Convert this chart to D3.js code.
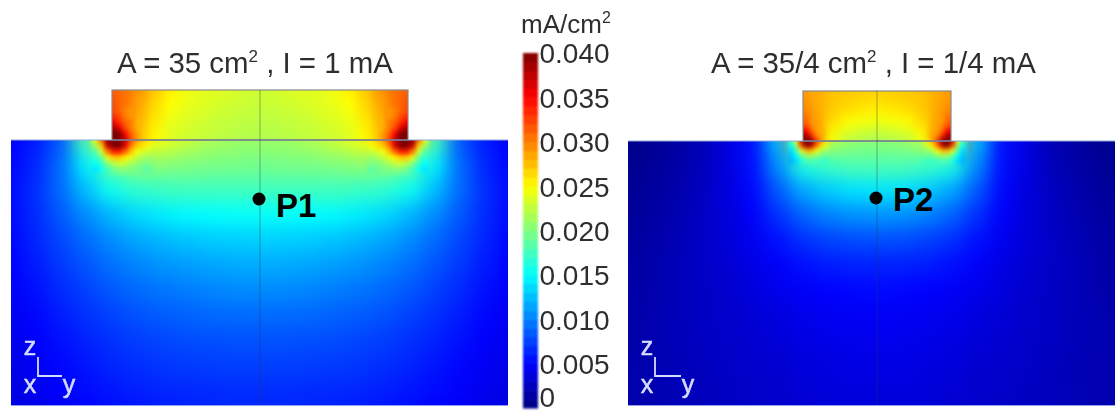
<!DOCTYPE html>
<html>
<head>
<meta charset="utf-8">
<script src="https://cdn.jsdelivr.net/npm/d3@7"></script>
<style>
body { margin: 0; background: #fff; }
svg { display: block; }
text { font-family: "Liberation Sans", Arial, sans-serif; }
</style>
</head>
<body>
<div class="canvas"></div>
<script>
// all values in mA/cm2
// distance from centre line / depth below the pad (negative = inside the pad)
const fieldDist = [0, 25, 50, 75, 100, 125, 150, 175, 200, 225, 250];
const fieldDepth = [0, 25, 50, 75, 100, 125, 150, 175, 200, 225, 250, 265];

// one list per fieldDist
const p1Field = [
	[.021, .0195, .0175, .0152, .0132, .0118, .0105, .0092, .0082, .0075, .0068, .0065],
	[.0212, .0197, .0175, .0152, .0131, .0117, .0104, .0092, .0082, .0075, .0068, .0065],
	[.0218, .0198, .0175, .015, .013, .0115, .0102, .0091, .0081, .0074, .0067, .0064],
	[.023, .02, .0175, .0148, .0127, .0112, .0099, .0089, .008, .0073, .0066, .0063],
	[.0245, .0205, .0172, .0143, .0122, .0108, .0096, .0086, .0077, .0071, .0065, .0061],
	[.026, .0205, .0168, .0135, .0115, .0102, .0091, .0082, .0074, .0068, .0062, .0058],
	[.028, .019, .0155, .0122, .0105, .0094, .0085, .0076, .0069, .0064, .0058, .0055],
	[.018, .0145, .0125, .0105, .0092, .0083, .0075, .0069, .0063, .0058, .0054, .0051],
	[.0085, .0092, .0092, .0085, .0078, .0072, .0066, .0061, .0056, .0052, .0049, .0047],
	[.006, .0065, .0068, .0067, .0064, .006, .0056, .0052, .0049, .0046, .0044, .0042],
	[.005, .0052, .0054, .0053, .0052, .005, .0048, .0045, .0043, .0041, .004, .0039]
];

const p2Field = [
	[.0205, .018, .014, .0108, .008, .0062, .0053, .0047, .0043, .004, .0037, .0036],
	[.0208, .018, .0138, .0106, .0079, .0062, .0052, .0046, .0042, .004, .0037, .0036],
	[.0225, .0172, .013, .01, .0075, .006, .005, .0045, .0041, .0038, .0036, .0035],
	[.03, .016, .0115, .0088, .0068, .0055, .0047, .0042, .0039, .0036, .0034, .0033],
	[.0125, .0105, .0085, .0068, .0056, .0048, .0042, .0038, .0035, .0032, .003, .003],
	[.0055, .0055, .0052, .0048, .0044, .004, .0037, .0034, .0032, .003, .0029, .0028],
	[.0038, .0038, .0037, .0036, .0035, .0033, .0031, .003, .0029, .0028, .0027, .0026],
	[.0022, .0024, .0026, .0027, .0028, .0028, .0027, .0027, .0026, .0025, .0024, .0024],
	[.0014, .0016, .0018, .002, .0022, .0023, .0023, .0023, .0023, .0022, .0022, .0022],
	[.0008, .001, .0012, .0014, .0016, .0017, .0018, .0019, .0019, .0019, .0019, .0019],
	[.0005, .0006, .0008, .001, .0012, .0014, .0015, .0016, .0016, .0017, .0017, .0017]
];

// pads, one list per depth
const p1PadDist = [0, 15, 30, 45, 60, 75, 90, 105, 120, 135, 148];
const p1PadDepth = [-48, -36, -24, -12, 0];
const p1Pad = [
	[.023, .0232, .0235, .0238, .024, .0245, .0255, .027, .029, .0305, .0315],
	[.0228, .023, .0232, .0235, .0238, .0242, .025, .0265, .0285, .0305, .032],
	[.0225, .0226, .0228, .023, .0235, .0238, .0245, .026, .028, .0305, .033],
	[.0222, .0223, .0225, .0228, .023, .0235, .024, .0255, .0275, .031, .036],
	[.022, .022, .0222, .0225, .0228, .023, .0238, .025, .027, .031, .04]
];

const p2PadDist = [0, 15, 30, 45, 60, 74];
const p2PadDepth = [-50, -40, -30, -20, -10, 0];
const p2Pad = [
	[.0268, .027, .0272, .0275, .0282, .029],
	[.0262, .0265, .0268, .0272, .0282, .0292],
	[.0255, .0258, .0262, .027, .0285, .03],
	[.0245, .0247, .0252, .0265, .0285, .031],
	[.023, .0233, .024, .0255, .029, .034],
	[.0218, .022, .0225, .0245, .029, .04]
];

// hot spots at the pad corner, read on a finer grid
const p1HotDist = [111, 117, 123, 129, 135, 141, 147, 153, 159, 165];
const p1HotDepth = [-30, -24, -18, -12, -6, 0, 6, 12, 18, 24, 30];
const p1Hot = [
	[null, null, null, .029, .03, .031, .032, .032, null, null],
	[null, null, null, .029, .03, .032, .033, .033, null, null],
	[null, null, .028, .03, .031, .033, .035, .035, null, null],
	[null, null, .028, .03, .032, .036, .038, .038, null, null],
	[null, .027, .029, .031, .035, .04, .04, .04, null, null],
	[.026, .027, .029, .032, .037, .04, .04, .04, .031, .024],
	[.0245, .026, .027, .03, .036, .04, .04, .037, .027, .021],
	[.0228, .0235, .0245, .027, .031, .034, .034, .03, .023, .018],
	[.021, .0215, .0225, .024, .0255, .027, .027, .024, .019, .0165],
	[.0198, .02, .0205, .0215, .0225, .023, .022, .02, .017, .015],
	[.0185, .019, .0195, .0198, .02, .02, .019, .0175, .0155, .014]
];

const p2HotDist = [51, 56, 61, 66, 71, 76, 81, 86];
const p2HotDepth = [-20, -15, -10, -5, 0, 5, 10, 15, 20];
const p2Hot = [
	[null, null, .0285, .029, .031, .031, null, null],
	[null, null, .0285, .03, .032, .032, null, null],
	[null, .028, .029, .031, .035, .035, null, null],
	[null, .0285, .03, .034, .039, .039, null, null],
	[.026, .029, .033, .04, .04, .037, .025, .017],
	[.0235, .026, .031, .038, .04, .032, .021, .015],
	[.021, .022, .025, .028, .028, .024, .018, .0135],
	[.019, .0195, .0205, .0215, .021, .019, .015, .0125],
	[.017, .0172, .0175, .0178, .0175, .016, .0135, .012]
];

// colour bar
const barTicks = [0, .005, .01, .015, .02, .025, .03, .035, .04];
const barSteps = [0, .001, .002, .003, .004, .005, .006, .007, .008, .009, .01, .011, .012, .013, .014, .015, .016, .017, .018, .019, .02, .021, .022, .023, .024, .025, .026, .027, .028, .029, .03, .031, .032, .033, .034, .035, .036, .037, .038, .039];
const barStep = .001;

const dims = { width: 1115, height: 413 };

const colour = d3.scaleLinear()
	.domain([0, .005, .015, .025, .035, .04])
	.range(['#00007f', '#0000ff', '#00ffff', '#ffff00', '#ff0000', '#7f0000'])
	.clamp(true);

const svg = d3.select('.canvas').append('svg')
	.attr('width', dims.width)
	.attr('height', dims.height);

const defs = svg.append('defs');

const addBlur = (id, sd) => {
	defs.append('filter')
		.attr('id', id)
		.attr('filterUnits', 'userSpaceOnUse')
		.attr('x', -100).attr('y', -100)
		.attr('width', dims.width + 200).attr('height', dims.height + 200)
		.attr('color-interpolation-filters', 'sRGB')
		.append('feGaussianBlur').attr('stdDeviation', sd);
};
addBlur('blurWide', 9);
addBlur('blurMid', 5);
addBlur('blurHot', 2.2);
addBlur('blurSoft', 1.1);
addBlur('blurText', 0.45);

// cell edges halfway between grid nodes, outer edges pushed out by pad px
const edges = (nodes, pad) => nodes.map((n, i) => {
	const prev = i === 0 ? n - pad : (nodes[i - 1] + n) / 2;
	const next = i === nodes.length - 1 ? n + pad : (n + nodes[i + 1]) / 2;
	return [prev, next];
});

const drawCells = (parent, filter, clip, dist, depth, grid, panel, pad) => {
	const g = parent.append('g').attr('clip-path', clip).append('g').attr('filter', filter);
	const cells = [];
	const dEdges = edges(dist, pad);
	const zEdges = edges(depth, pad);
	grid.forEach((row, r) => row.forEach((v, c) => {
		if (v === null) return;
		[panel.xLeft, panel.xRight].forEach(x => {
			cells.push({ v, x0: x(dEdges[c][0]), x1: x(dEdges[c][1]), y0: panel.y(zEdges[r][0]), y1: panel.y(zEdges[r][1]) });
		});
	}));
	g.selectAll('rect').data(cells).enter().append('rect')
		.attr('x', d => Math.min(d.x0, d.x1) - .3)
		.attr('y', d => d.y0 - .3)
		.attr('width', d => Math.abs(d.x1 - d.x0) + .6)
		.attr('height', d => d.y1 - d.y0 + .6)
		.attr('fill', d => colour(d.v));
};

const drawPanel = (p) => {
	const panel = {
		xLeft: d3.scaleLinear().domain([0, 100]).range([p.centre, p.centre - 100]),
		xRight: d3.scaleLinear().domain([0, 100]).range([p.centre, p.centre + 100]),
		y: d3.scaleLinear().domain([0, 100]).range([p.top, p.top + 100])
	};
	const padLeft = p.centre - p.padHalf, padW = p.padHalf * 2;
	const bottom = 405, padTop = p.top - 50;
	const g = svg.append('g');

	const clip = (id, rects) => {
		const c = defs.append('clipPath').attr('id', id);
		rects.forEach(r => c.append('rect').attr('x', r[0]).attr('y', r[1]).attr('width', r[2]).attr('height', r[3]));
		return `url(#${id})`;
	};
	const fieldRect = [p.left, p.top, p.right - p.left, bottom - p.top];
	const padRect = [padLeft, padTop, padW, p.top - padTop];
	const fieldClip = clip(p.id + 'Field', [fieldRect]);
	const padClip = clip(p.id + 'Pad', [padRect]);
	const allClip = clip(p.id + 'All', [fieldRect, padRect]);

	drawCells(g, 'url(#blurWide)', fieldClip, fieldDist, fieldDepth, d3.transpose(p.field), panel, 60);
	drawCells(g, 'url(#blurMid)', padClip, p.padDist, p.padDepth, p.pad, panel, 60);
	drawCells(g, 'url(#blurHot)', allClip, p.hotDist, p.hotDepth, p.hot, panel, 3);

	// outlines
	g.append('rect').attr('x', padLeft).attr('y', padTop).attr('width', padW).attr('height', 50)
		.attr('fill', 'none').attr('stroke', '#8a8a8a').attr('stroke-width', 1.2).attr('filter', 'url(#blurText)');
	g.append('line').attr('x1', p.left).attr('x2', p.right).attr('y1', p.top).attr('y2', p.top)
		.attr('stroke', '#8fa8d8').attr('stroke-width', 1);
	g.append('line').attr('x1', padLeft).attr('x2', padLeft + padW).attr('y1', p.top).attr('y2', p.top)
		.attr('stroke', '#444').attr('stroke-opacity', .55).attr('stroke-width', 1.2);
	g.append('line').attr('x1', p.centre).attr('x2', p.centre).attr('y1', padTop).attr('y2', bottom)
		.attr('stroke', '#334').attr('stroke-opacity', .4).attr('stroke-width', 1);
	g.append('line').attr('x1', p.left).attr('x2', p.right).attr('y1', bottom + .5).attr('y2', bottom + .5)
		.attr('stroke', '#8f9ff0').attr('stroke-width', 1.2);

	// axis triad
	const triad = g.append('g').attr('filter', 'url(#blurText)').attr('fill', '#d4dcff');
	triad.append('path')
		.attr('d', `M${p.triad[0]},${p.triad[1]}v19h${p.triad[2]}`)
		.attr('fill', 'none').attr('stroke', '#d4dcff').attr('stroke-width', 1.8);
	triad.selectAll('text')
		.data([['z', p.triad[0] - 8, 355], ['x', p.triad[0] - 8, 393], ['y', p.triad[0] + p.triad[2] + 7, 393]])
		.enter().append('text')
		.attr('x', d => d[1]).attr('y', d => d[2])
		.attr('text-anchor', 'middle').attr('font-size', 25)
		.attr('stroke', '#d4dcff').attr('stroke-width', .5)
		.text(d => d[0]);

	// probe point
	g.append('circle').attr('cx', p.centre - 1).attr('cy', p.pointY).attr('r', 6.5).attr('fill', '#000');
	g.append('text').attr('x', p.centre + p.labelDx).attr('y', p.labelY)
		.attr('font-size', 33).attr('font-weight', 'bold').attr('fill', '#000').text(p.label);

	// title
	const title = g.append('text').attr('x', p.titleX).attr('y', 73)
		.attr('font-size', 29.4).attr('fill', '#2e2e2e').attr('filter', 'url(#blurText)');
	title.append('tspan').text(p.titleA);
	title.append('tspan').attr('dy', -11).attr('font-size', 17).text('2');
	title.append('tspan').attr('dy', 11).text(p.titleB);
};

drawPanel({
	id: 'p1', centre: 260, padHalf: 148, left: 11, right: 508, top: 140,
	field: p1Field, padDist: p1PadDist, padDepth: p1PadDepth, pad: p1Pad,
	hotDist: p1HotDist, hotDepth: p1HotDepth, hot: p1Hot,
	pointY: 199, label: 'P1', labelDx: 16, labelY: 217,
	titleX: 117, titleA: 'A = 35 cm', titleB: ' , I = 1 mA',
	triad: [38, 357, 24]
});

drawPanel({
	id: 'p2', centre: 877, padHalf: 74, left: 628, right: 1115, top: 141,
	field: p2Field, padDist: p2PadDist, padDepth: p2PadDepth, pad: p2Pad,
	hotDist: p2HotDist, hotDepth: p2HotDepth, hot: p2Hot,
	pointY: 198, label: 'P2', labelDx: 16, labelY: 211,
	titleX: 711, titleA: 'A = 35/4 cm', titleB: ' , I = 1/4 mA',
	triad: [655, 357, 26]
});

// colour bar
const barY = d3.scaleLinear().domain([0, .04]).range([408, 53]);
const barGroup = svg.append('g');
barGroup.append('g').attr('filter', 'url(#blurSoft)')
	.selectAll('rect').data(barSteps).enter().append('rect')
	.attr('x', 523).attr('width', 15)
	.attr('y', d => barY(d + barStep))
	.attr('height', d => barY(d) - barY(d + barStep) + .5)
	.attr('fill', d => colour(d + barStep / 2));

const barAxis = d3.axisRight(barY)
	.tickValues(barTicks)
	.tickSize(0)
	.tickPadding(0)
	.tickFormat(d => d === 0 ? '0' : d3.format('.3f')(d));

const axisG = svg.append('g')
	.attr('transform', 'translate(539.5,1)')
	.attr('filter', 'url(#blurText)')
	.call(barAxis);
axisG.select('.domain').remove();
axisG.selectAll('text')
	.attr('font-family', '"Liberation Sans", Arial, sans-serif')
	.attr('font-size', 28)
	.attr('fill', '#2e2e2e');
// keep the 0 label inside the picture
axisG.selectAll('.tick').filter(d => d === 0).select('text').attr('y', -11);

const unit = svg.append('text').attr('x', 521).attr('y', 33)
	.attr('font-size', 26).attr('fill', '#2e2e2e').attr('filter', 'url(#blurText)');
unit.append('tspan').text('mA/cm');
unit.append('tspan').attr('dy', -10).attr('font-size', 16).text('2');
</script>
</body>
</html>
